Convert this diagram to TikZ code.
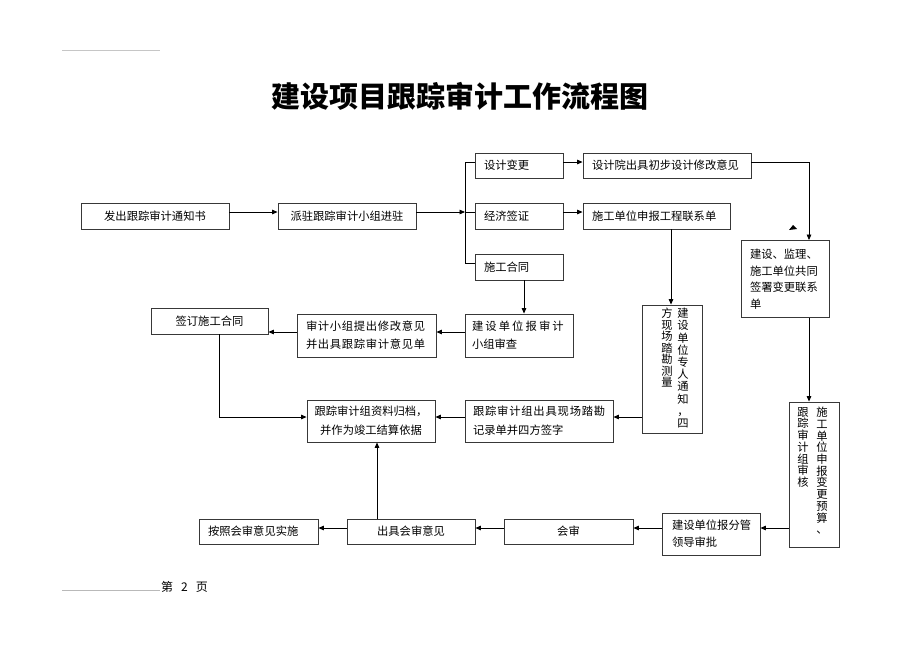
\documentclass[tikz,border=0pt]{standalone}
\usepackage{fontspec}
\newfontfamily\cjk{Noto Sans CJK SC}
\usetikzlibrary{arrows.meta}
\newcommand\gapA{\kern2.1pt}
\newcommand\gapB{\kern0.7pt}
\newcommand\gapC{\kern0.8pt}
\begin{document}
\begin{tikzpicture}[x=1pt,y=-1pt,
  box/.style={draw=black!78,line width=0.9pt,inner xsep=9pt,inner ysep=0pt,
    font=\cjk\fontsize{11.3}{18}\selectfont},
  arr/.style={draw=black,line width=0.8pt,-{Triangle[length=5.5pt,width=4.6pt]}},
  ln/.style={draw=black,line width=0.8pt},
  vcol/.style={inner sep=0pt,align=center,text width=12pt,anchor=north}
]
\useasboundingbox (0,0) rectangle (920,651);

% title and page decorations
\node[font=\cjk\bfseries\fontsize{29}{29}\selectfont] (title) at (460,96) {建设项目跟踪审计工作流程图};
\draw[gray!45,line width=0.7pt] (62,50) -- (160,50);
\node[anchor=west,inner sep=0pt,font=\cjk\fontsize{12}{12}\selectfont] (pg) at (161,587) {第\hspace{8pt}2\hspace{8pt}页};
\draw[gray!55,line width=0.7pt] (62,590) -- (160,590);

% boxes
\node[box,text width=130pt,align=center,minimum height=26pt] (b1) at (155,216) {发出跟踪审计通知书};
\node[box,text width=120pt,align=center,minimum height=26pt] (b2) at (347,216) {派驻跟踪审计小组进驻};
\node[box,text width=70pt,align=left,minimum height=25pt] (b3) at (519,165.5) {设计变更};
\node[box,text width=150pt,align=left,minimum height=25pt] (b4) at (667,165.5) {设计院出具初步设计修改意见};
\node[box,text width=70pt,align=left,minimum height=26pt] (b5) at (519,216) {经济签证};
\node[box,text width=129pt,align=left,minimum height=26pt] (b6) at (656.5,216) {施工单位申报工程联系单};
\node[box,text width=70pt,align=left,minimum height=26pt] (b7) at (519,267) {施工合同};
\node[box,text width=70pt,align=left,minimum height=77pt,
  font=\cjk\fontsize{11.3}{16.5}\selectfont] (b8) at (785,279) {建设、监理、\\施工单位共同\\签署变更联系\\单};
\node[box,minimum width=60pt,minimum height=128pt] (b9) at (672,369) {};
\node[box,minimum width=50pt,minimum height=145pt] (b10) at (814,474.5) {};
\node[box,inner xsep=10pt,text width=78pt,align=left,minimum height=42pt,
  font=\cjk\fontsize{11.3}{17}\selectfont] (b11) at (711,534) {建设单位报分管\\领导审批};
\node[box,text width=111pt,align=center,minimum height=25pt] (b12) at (568.5,531.5) {会审};
\node[box,text width=110pt,align=center,minimum height=25pt] (b13) at (411,531.5) {出具会审意见};
\node[box,text width=101pt,align=left,minimum height=25pt] (b14) at (258.5,531.5) {按照会审意见实施};
\node[box,inner xsep=7pt,text width=94pt,align=left,minimum height=43pt] (b15) at (519,335.5)
  {建\gapA 设\gapA 单\gapA 位\gapA 报\gapA 审\gapA 计\\小组审查};
\node[box,text width=121pt,align=left,minimum height=43pt] (b16) at (366.5,335.5)
  {审\gapB 计\gapB 小\gapB 组\gapB 提\gapB 出\gapB 修\gapB 改\gapB 意\gapB 见\\并\gapB 出\gapB 具\gapB 跟\gapB 踪\gapB 审\gapB 计\gapB 意\gapB 见\gapB 单};
\node[box,text width=99pt,align=center,minimum height=26pt] (b17) at (209.5,321) {签订施工合同};
\node[box,inner xsep=7pt,text width=114pt,align=center,minimum height=42pt,
  font=\cjk\fontsize{11.3}{19}\selectfont] (b18) at (371,421) {跟踪审计组资料归档，\\并作为竣工结算依据};
\node[box,inner xsep=8pt,text width=132pt,align=left,minimum height=42pt,
  font=\cjk\fontsize{11.3}{19}\selectfont] (b19) at (539,421)
  {跟\gapC 踪\gapC 审\gapC 计\gapC 组\gapC 出\gapC 具\gapC 现\gapC 场\gapC 踏\gapC 勘\\记录单并四方签字};

% vertical text columns
\node[vcol,font=\cjk\fontsize{11.3}{12.2}\selectfont] (b9r) at (683,308) {建\\设\\单\\位\\专\\人\\通\\知\\，\\四};
\node[vcol,font=\cjk\fontsize{11.3}{11.5}\selectfont] (b9l) at (667,308) {方\\现\\场\\踏\\勘\\测\\量};
\node[vcol,font=\cjk\fontsize{11.3}{11.7}\selectfont] (b10r) at (822,407) {施\\工\\单\\位\\申\\报\\变\\更\\预\\算\\、};
\node[vcol,font=\cjk\fontsize{11.3}{11.7}\selectfont] (b10l) at (803,407) {跟\\踪\\审\\计\\组\\审\\核};

% helper coordinates
\coordinate (rA) at (0,162);
\coordinate (rB) at (0,212);
\coordinate (rG) at (0,263);
\coordinate (rC) at (0,332);
\coordinate (rD) at (0,417);
\coordinate (rE) at (0,528);
\coordinate (brx) at (465,0);
\coordinate (cR) at (809,0);
\coordinate (cM) at (671,0);
\coordinate (cH) at (524,0);
\coordinate (cL) at (219,0);
\coordinate (cB) at (377,0);

% connectors
\draw[arr] (b1.east |- rB) -- (b2.west |- rB);
\draw[arr] (b2.east |- rB) -- (brx |- rB);
\draw[ln] (b3.west |- rA) -| (brx |- rG) -- (b7.west |- rG);
\draw[ln] (brx |- rB) -- (b5.west |- rB);
\draw[arr] (b3.east |- rA) -- (b4.west |- rA);
\draw[arr] (b5.east |- rB) -- (b6.west |- rB);
\draw[arr] (b4.east |- rA) -| (cR |- b8.north);
\draw[arr] (cR |- b8.south) -- (cR |- b10.north);
\draw[arr] (cM |- b6.south) -- (cM |- b9.north);
\draw[arr] (cH |- b7.south) -- (cH |- b15.north);
\draw[arr] (b15.west |- rC) -- (b16.east |- rC);
\draw[arr] (b16.west |- rC) -- (b17.east |- rC);
\draw[arr] (cL |- b17.south) |- (b18.west |- rD);
\draw[arr] (b9.west |- rD) -- (b19.east |- rD);
\draw[arr] (b19.west |- rD) -- (b18.east |- rD);
\draw[arr] (cB |- b13.north) -- (cB |- b18.south);
\draw[arr] (b10.west |- rE) -- (b11.east |- rE);
\draw[arr] (b11.west |- rE) -- (b12.east |- rE);
\draw[arr] (b12.west |- rE) -- (b13.east |- rE);
\draw[arr] (b13.west |- rE) -- (b14.east |- rE);

% stray arrowhead mark
\fill (789,230) -- (797,229) -- (793,225) -- cycle;
\end{tikzpicture}
\end{document}
